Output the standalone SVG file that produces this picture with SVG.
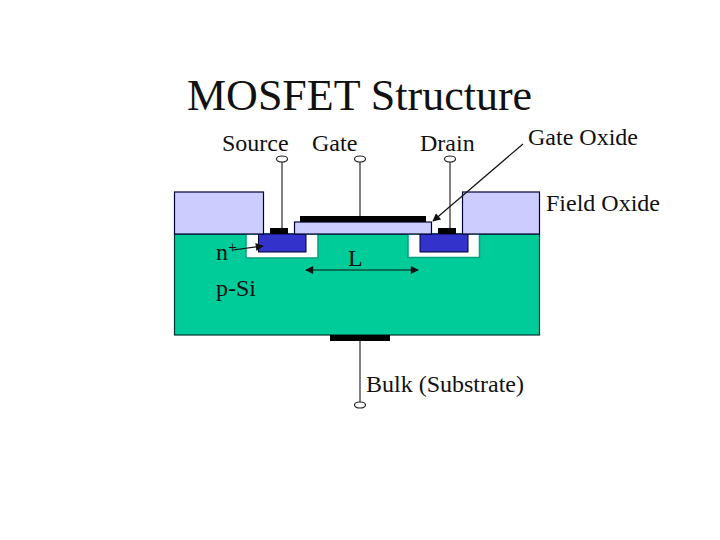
<svg xmlns="http://www.w3.org/2000/svg" width="720" height="540" viewBox="0 0 720 540">
<style>
text{font-family:"Liberation Serif","Times New Roman",serif;fill:#111}
.big{font-size:24px}
.ox{fill:#ccccff;stroke:#000033;stroke-width:1.2}
.blue{fill:#3333cc;stroke:#000033;stroke-width:1}
.well{fill:#fff;stroke:#00a080;stroke-width:1.5}
.metal{fill:#000}
.wire{stroke:#808080;stroke-width:2;fill:none}
.term{fill:#fff;stroke:#222;stroke-width:1.2}
.arr{stroke:#111;stroke-width:1.2;fill:none}
.tip{fill:#111}
</style>
<defs>
<marker id="ah" viewBox="0 0 10 10" refX="9" refY="5" markerWidth="9" markerHeight="8" markerUnits="userSpaceOnUse" orient="auto-start-reverse"><path d="M0 0L10 5L0 10Z" class="tip"/></marker>
</defs>
<rect width="720" height="540" fill="#fff"/>
<text id="title" x="187" y="110" font-size="44">MOSFET Structure</text>
<g id="substrate"><rect x="174.5" y="234" width="365" height="101" fill="#00cc99" stroke="#003333" stroke-width="1.2"/></g>
<g id="source-well"><path d="M246 234V258H318V234Z" class="well"/><rect x="258.5" y="234" width="47.500" height="18" class="blue"/></g>
<g id="drain-well"><path d="M408 234V257.500H479.500V234Z" class="well"/><rect x="420" y="234" width="48" height="18" class="blue"/></g>
<g id="field-oxide-left"><rect x="174.500" y="192" width="89" height="42" class="ox"/></g>
<g id="field-oxide-right"><rect x="462.500" y="192" width="77" height="42" class="ox"/></g>
<g id="gate-oxide"><rect x="294.500" y="222" width="137" height="12" class="ox"/></g>
<g id="gate-metal"><rect x="300" y="216" width="126" height="6" class="metal"/></g>
<g id="source-contact"><rect x="270" y="228" width="18" height="6" class="metal"/></g>
<g id="drain-contact"><rect x="438" y="228" width="18" height="6" class="metal"/></g>
<g id="bulk-contact"><rect x="330" y="335" width="60" height="6" class="metal"/></g>
<g id="connectors">
<line x1="282" y1="162" x2="282" y2="228" class="wire"/>
<line x1="360" y1="162" x2="360" y2="216" class="wire"/>
<line x1="450" y1="162" x2="450" y2="228" class="wire"/>
<line x1="360" y1="341" x2="360" y2="402" class="wire"/>
<line x1="523" y1="144" x2="433" y2="221" class="arr" marker-end="url(#ah)"/>
<line x1="233" y1="250" x2="263" y2="246" class="arr" marker-end="url(#ah)"/>
<line x1="306" y1="270" x2="418" y2="270" class="arr" marker-start="url(#ah)" marker-end="url(#ah)"/>
</g>
<g id="source-terminal"><ellipse cx="282" cy="159" rx="5.500" ry="3" class="term"/><text x="222" y="151" class="big">Source</text></g>
<g id="gate-terminal"><ellipse cx="360" cy="159" rx="5.500" ry="3" class="term"/><text x="312" y="151" class="big">Gate</text></g>
<g id="drain-terminal"><ellipse cx="450" cy="159" rx="5.500" ry="3" class="term"/><text x="420" y="151" class="big">Drain</text></g>
<g id="bulk-terminal"><ellipse cx="360" cy="405" rx="5.500" ry="3" class="term"/><text x="366" y="392" class="big">Bulk (Substrate)</text></g>
<text id="gate-oxide-label" x="528" y="145" class="big">Gate Oxide</text>
<text id="field-oxide-label" x="546" y="211" class="big">Field Oxide</text>
<text id="n-plus" x="216" y="260" class="big">n<tspan font-size="16" dy="-7">+</tspan></text>
<text id="p-si" x="216" y="296" class="big">p-Si</text>
<text id="length" x="348" y="266" class="big">L</text>
</svg>
